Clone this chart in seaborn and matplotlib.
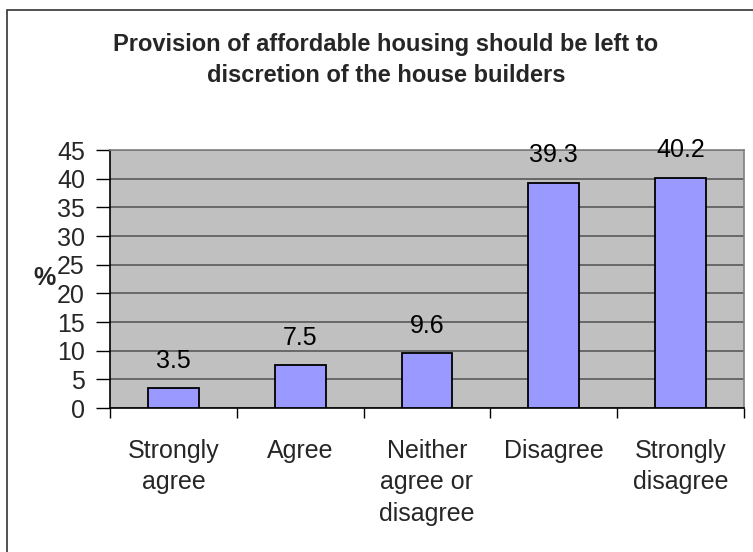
import matplotlib
matplotlib.use("Agg")
import matplotlib.pyplot as plt
from matplotlib.patches import Rectangle
import seaborn as sns
import pandas as pd

# Survey responses (percent of respondents)
categories = ["Strongly\nagree", "Agree", "Neither\nagree or\ndisagree", "Disagree", "Strongly\ndisagree"]
percent = [3.5, 7.5, 9.6, 39.3, 40.2]
y_ticks = [0, 5, 10, 15, 20, 25, 30, 35, 40, 45]
title = "Provision of affordable housing should be left to\ndiscretion of the house builders"

sns.set_theme(style="white")
plt.rcParams["font.family"] = ["Liberation Sans", "DejaVu Sans"]

W, H = 753, 552
fig = plt.figure(figsize=(W / 100, H / 100), dpi=100)
fig.patch.set_facecolor("white")

# chart-area frame
fig.patches.append(Rectangle((7 / W, -0.2), 1.5, 1.2 - 10 / H,
                             transform=fig.transFigure, fill=False,
                             edgecolor="#333333", linewidth=1.2))

left, right, top, bottom = 110 / W, 744 / W, 150 / H, 408 / H
ax = fig.add_axes([left, 1 - bottom, right - left, bottom - top])
ax.set_facecolor("#C0C0C0")

df = pd.DataFrame({"category": categories, "percent": percent})
sns.barplot(data=df, x="category", y="percent", ax=ax, width=0.4,
            color="#9999FF", saturation=1, edgecolor="black", linewidth=1.3)
for p in ax.patches:
    p.set_zorder(3)

ax.set_ylim(0, 45)
ax.set_xlim(-0.5, len(categories) - 0.5)
ax.set_yticks(y_ticks)
ax.set_yticklabels([str(v) for v in y_ticks], fontsize=18)
ax.yaxis.grid(True, color="#505050", linewidth=1.1)
ax.set_axisbelow(True)

# category ticks on boundaries, labels in the middle
ax.set_xticks([i - 0.5 for i in range(len(categories) + 1)])
ax.set_xticklabels([])
ax.set_xticks(range(len(categories)), minor=True)
ax.set_xticklabels(categories, minor=True, fontsize=18, linespacing=1.4,
                   va="top")
ax.tick_params(axis="x", which="major", length=7, width=1, color="black",
               direction="out", bottom=True)
ax.tick_params(axis="x", which="minor", length=0, pad=22)
ax.tick_params(axis="y", length=10, width=1, color="black", direction="out",
               left=True, pad=8)

for side in ["left", "bottom"]:
    ax.spines[side].set_color("black")
    ax.spines[side].set_linewidth(1.2)
for side in ["top", "right"]:
    ax.spines[side].set_color("#808080")
    ax.spines[side].set_linewidth(1.2)

ax.bar_label(ax.containers[0], labels=[f"{v}" for v in percent],
             padding=11, fontsize=18, color="black")

ax.set_xlabel("")
ax.set_ylabel("")
fig.text(45 / W, 1 - 278 / H, "%", ha="center", va="center",
         fontsize=18, fontweight="bold")

fig.text(386 / W, 1 - 33 / H, title, ha="center", va="top",
         fontsize=17, fontweight="bold", linespacing=1.45)

fig.savefig("out.png", dpi=100)
